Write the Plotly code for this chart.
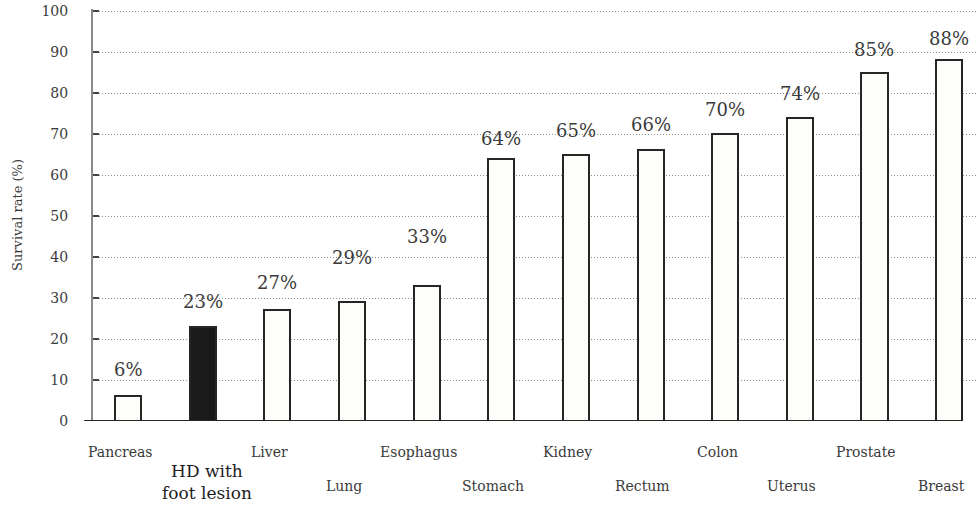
import plotly.graph_objects as go

# Five-year survival rates (%) by cancer site, with HD foot lesion for comparison
sites = ["Pancreas", "HD with<br>foot lesion", "Liver", "Lung", "Esophagus", "Stomach",
         "Kidney", "Rectum", "Colon", "Uterus", "Prostate", "Breast"]
survival = [6, 23, 27, 29, 33, 64, 65, 66, 70, 74, 85, 88]
value_labels = ["6%", "23%", "27%", "29%", "33%", "64%", "65%", "66%", "70%", "74%", "85%", "88%"]
highlight = "HD with<br>foot lesion"
y_ticks = [0, 10, 20, 30, 40, 50, 60, 70, 80, 90, 100]

# category labels alternate between two rows under the axis
label_row = [1, 2, 1, 2, 1, 2, 1, 2, 1, 2, 1, 2]
# lift (px) of each value label above its bar
label_lift = [27, 25, 28, 45, 49, 20, 24, 26, 25, 24, 23, 22]

SERIF = "DejaVu Serif"
TEXT = "#3a3a3a"

fills = ["#1a1a1a" if s == highlight else "#fdfdfa" for s in sites]

fig = go.Figure()
fig.add_trace(go.Bar(
    x=sites, y=survival,
    width=0.35,
    marker=dict(color=fills, line=dict(color="#262626", width=2)),
    hoverinfo="skip",
))

# value labels above bars
for s, v, t, lift in zip(sites, survival, value_labels, label_lift):
    fig.add_annotation(x=s, y=v, text=t, showarrow=False, xref="x", yref="y",
                       yshift=lift, font=dict(family=SERIF, size=18, color=TEXT))

# staggered category labels
for s, row in zip(sites, label_row):
    if s == highlight:
        fig.add_annotation(x=s, y=0, text=s, showarrow=False, xref="x", yref="paper",
                           yshift=-61, xshift=4, yanchor="middle",
                           font=dict(family=SERIF, size=17, color="#1e1e1e"))
    else:
        fig.add_annotation(x=s, y=0, text=s, showarrow=False, xref="x", yref="paper",
                           yshift=-31 if row == 1 else -65, xshift=-8, yanchor="middle",
                           font=dict(family=SERIF, size=14, color=TEXT))

fig.update_layout(
    width=976, height=512,
    margin=dict(l=93, r=0, t=9, b=91),
    paper_bgcolor="white", plot_bgcolor="white",
    showlegend=False,
    bargap=0,
    xaxis=dict(
        type="category", range=[-0.47, 11.36],
        showticklabels=False, ticks="", showgrid=False, zeroline=False,
        showline=False,
    ),
    yaxis=dict(
        range=[0, 100.5], tickvals=y_ticks,
        tickfont=dict(family=SERIF, size=14, color=TEXT),
        ticks="inside", ticklen=6, tickcolor="#444", tickwidth=1.5,
        showgrid=True, gridcolor="#8c8c8c", griddash="1px,2px", gridwidth=1,
        showline=True, linecolor="#8a8a8a", linewidth=2,
        zeroline=False, ticklabelstandoff=20,
        title=dict(text="Survival rate (%)", standoff=16,
                   font=dict(family=SERIF, size=13, color=TEXT)),
    ),
)

# baseline along the bottom of the bars
fig.add_shape(type="line", xref="paper", yref="y", x0=-0.01, x1=0.985, y0=0, y1=0,
              line=dict(color="#262626", width=2))

fig.write_html("out.html")
